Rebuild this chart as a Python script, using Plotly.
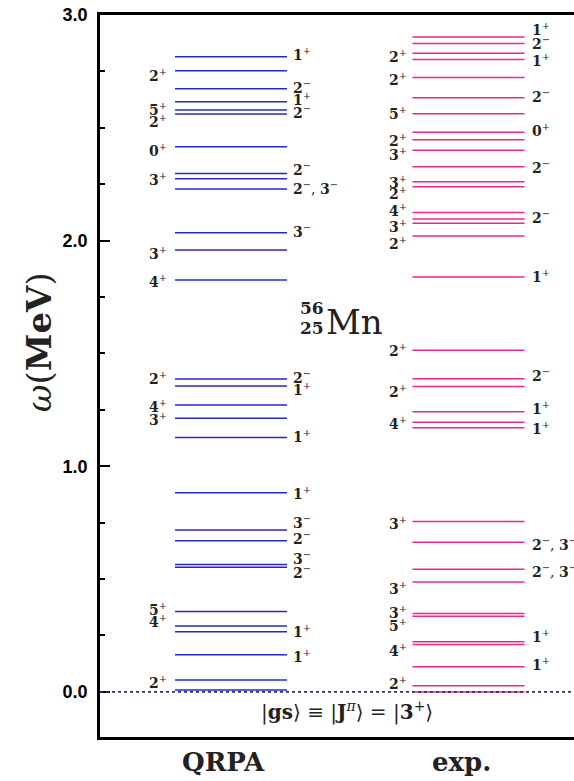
import plotly.graph_objects as go

# ---------------- data ----------------
qrpa_levels = [2.815, 2.753, 2.673, 2.615, 2.579, 2.561, 2.416, 2.298, 2.274, 2.229,
               2.035, 1.958, 1.825, 1.387, 1.356, 1.272, 1.213, 1.127, 0.883, 0.718,
               0.670, 0.564, 0.552, 0.356, 0.292, 0.267, 0.164, 0.053, 0.008]
exp_levels = [2.903, 2.874, 2.830, 2.803, 2.723, 2.633, 2.562, 2.480, 2.447, 2.401,
              2.327, 2.261, 2.239, 2.125, 2.096, 2.077, 2.020, 1.839, 1.514, 1.388,
              1.354, 1.242, 1.195, 1.171, 0.755, 0.663, 0.544, 0.487, 0.347, 0.335,
              0.222, 0.210, 0.111, 0.027, 0.0]

# (level index, spin, parity, pixel nudge)
qrpa_left_labels = [(1, "2", "+", -4), (4, "5", "+", 1), (5, "2", "+", -7), (6, "0", "+", -3),
                    (8, "3", "+", 0), (11, "3", "+", -3), (12, "4", "+", -1), (13, "2", "+", 1),
                    (15, "4", "+", -1), (16, "3", "+", -1), (23, "5", "+", 3), (24, "4", "+", 5),
                    (27, "2", "+", -2)]
qrpa_right_labels = [(0, "1", "+", 3), (2, "2", "−", 2), (3, "1", "+", 3), (5, "2", "−", 2),
                     (7, "2", "−", 4), (9, "2,3", "−", 1), (10, "3", "−", 2), (13, "2", "−", 1.5),
                     (14, "1", "+", -3), (17, "1", "+", 2), (18, "1", "+", 0), (19, "3", "−", 7.5),
                     (20, "2", "−", 3), (21, "3", "−", 7), (22, "2", "−", -5), (25, "1", "+", 1),
                     (26, "1", "+", -1)]
exp_left_labels = [(2, "2", "+", -2.5), (4, "2", "+", -1), (6, "5", "+", 1), (8, "2", "+", 0),
                   (9, "3", "+", -4), (11, "3", "+", 0), (12, "2", "+", -6), (13, "4", "+", 2),
                   (15, "3", "+", -3), (16, "2", "+", -6.5), (18, "2", "+", 0), (20, "2", "+", -4.5),
                   (22, "4", "+", -1), (24, "3", "+", -1), (27, "3", "+", -5.5), (28, "3", "+", 2),
                   (29, "5", "+", -9), (31, "4", "+", -6), (33, "2", "+", 3)]
exp_right_labels = [(0, "1", "+", 7.7), (1, "2", "−", 0), (3, "1", "+", -1), (5, "2", "−", 2),
                    (7, "0", "+", 2), (10, "2", "−", 0), (14, "2", "−", 2), (17, "1", "+", 1),
                    (19, "2", "−", 3.7), (21, "1", "+", 4), (23, "1", "+", 0), (25, "2,3", "−", -2),
                    (26, "2,3", "−", -1.5), (30, "1", "+", 6), (32, "1", "+", 3)]

columns = ["QRPA", "exp."]
column_x = [1, 2]
y_ticks = [0.0, 1.0, 2.0, 3.0]

# ---------------- style ----------------
HW = 0.2358
BLUE = "#2727cc"
PINK = "#f2248e"
SERIF = "DejaVu Serif"

fig = go.Figure()


def level_trace(xc, levels, color):
    xs, ys = [], []
    for e in levels:
        xs += [xc - HW, xc + HW, None]
        ys += [e, e, None]
    return go.Scatter(x=xs, y=ys, mode="lines", line=dict(color=color, width=1.5),
                      hoverinfo="skip", showlegend=False)


fig.add_trace(level_trace(column_x[0], qrpa_levels, BLUE))
fig.add_trace(level_trace(column_x[1], exp_levels, PINK))


def label_text(spin, par):
    if "," in spin:
        a, b = spin.split(",")
        return f"<b>{a}</b><sup>{par}</sup>, <b>{b}</b><sup>{par}</sup>"
    return f"<b>{spin}</b><sup>{par}</sup>"


annotations = []


def add_labels(labels, levels, xc, side, gap):
    for idx, spin, par, nudge in labels:
        if side == "left":
            x, anchor = xc - HW, "right"
            xs = -gap
        else:
            x, anchor = xc + HW, "left"
            xs = gap
        annotations.append(dict(x=x, y=levels[idx], xref="x", yref="y", text=label_text(spin, par),
                                showarrow=False, xanchor=anchor, yanchor="middle", xshift=xs,
                                yshift=nudge, font=dict(family=SERIF, size=14, color="#222")))


add_labels(qrpa_left_labels, qrpa_levels, column_x[0], "left", 6)
add_labels(qrpa_right_labels, qrpa_levels, column_x[0], "right", 4)
add_labels(exp_left_labels, exp_levels, column_x[1], "left", 4)
add_labels(exp_right_labels, exp_levels, column_x[1], "right", 5)

# nucleus label
annotations += [
    dict(x=0.448, y=1.700, xref="paper", yref="y", text="<b>56</b>", showarrow=False,
         xanchor="center", yanchor="middle", font=dict(family=SERIF, size=17, color="#222")),
    dict(x=0.448, y=1.612, xref="paper", yref="y", text="<b>25</b>", showarrow=False,
         xanchor="center", yanchor="middle", font=dict(family=SERIF, size=17, color="#222")),
    dict(x=0.4726, y=1.640, xref="paper", yref="y", text="Mn", showarrow=False,
         xanchor="left", yanchor="middle", font=dict(family=SERIF, size=34, color="#222")),
    dict(x=0.522, y=-0.0887, xref="paper", yref="y",
         text="|<b>gs</b>⟩ ≡ |<b>J</b><sup><i>π</i></sup>⟩ = |<b>3</b><sup>+</sup>⟩",
         showarrow=False, xanchor="center", yanchor="middle",
         font=dict(family=SERIF, size=20, color="#222")),
    dict(x=-0.1287, y=1.55, xref="paper", yref="y", text="<i>ω</i>(<b>MeV</b>)",
         showarrow=False, textangle=-90, xanchor="center", yanchor="middle",
         font=dict(family=SERIF, size=34, color="#222")),
]
for name, px in zip(columns, [0.2616, 0.7637]):
    annotations.append(dict(x=px, y=-0.0346, xref="paper", yref="paper", text=f"<b>{name}</b>",
                            showarrow=False, xanchor="center", yanchor="middle",
                            font=dict(family=SERIF, size=26, color="#222")))

fig.update_layout(
    width=574, height=781,
    margin=dict(l=100, r=0, t=15, b=44),
    paper_bgcolor="white", plot_bgcolor="white",
    showlegend=False,
    annotations=annotations,
    shapes=[dict(type="line", xref="paper", yref="y", x0=0, x1=1, y0=0, y1=0,
                 line=dict(color="#333366", width=1.6, dash="dot"), layer="above")],
    xaxis=dict(range=[0.4484, 2.4442], showgrid=False, zeroline=False, showticklabels=False,
               ticks="", showline=True, mirror=True, linecolor="black", linewidth=3),
    yaxis=dict(range=[-0.2, 3.0], showgrid=False, zeroline=False, showline=True,
               linecolor="black", linewidth=2.5, ticks="inside", ticklen=10, tickwidth=2,
               tickcolor="black", tickvals=y_ticks, tickformat=".1f", ticklabelstandoff=6,
               tickfont=dict(family="Liberation Sans", size=18, color="black", weight="bold"),
               minor=dict(ticks="inside", ticklen=5, tickwidth=2, dtick=0.25, tickcolor="black")),
)

fig.write_html("out.html")
